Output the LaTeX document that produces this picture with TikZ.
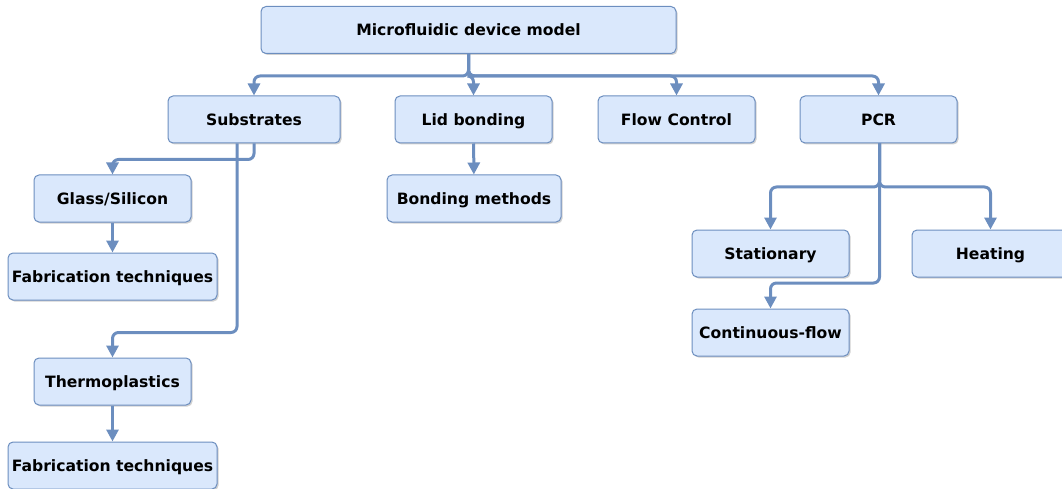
\documentclass[tikz,border=0pt]{standalone}
\usepackage{fontspec}
\setmainfont{DejaVu Sans}
\usetikzlibrary{arrows.meta,shadows}

\definecolor{boxfill}{HTML}{DAE8FC}
\definecolor{boxline}{HTML}{6C8EBF}

\begin{document}
\begin{tikzpicture}[x=1pt, y=-1pt,
      box/.style = {shape=rectangle, rounded corners=5pt,
        draw=boxline, fill=boxfill, line width=1pt, align=center,
        minimum width=157pt, minimum height=47pt, inner sep=0pt,
        text height=11.4pt, text depth=0pt,
        font=\fontsize{15.6}{18}\selectfont\bfseries,
        drop shadow={shadow xshift=1.5pt, shadow yshift=-1.5pt,
          fill=black!30, opacity=0.6}},
      link/.style = {draw=boxline, line width=3pt, rounded corners=6pt,
        -{Triangle[length=12pt, width=12pt]}}]
  \useasboundingbox (0,0) rectangle (1062,489);

  % top row
  \node[box, minimum width=415pt] (model) at (468.5,30) {Microfluidic device model};
  \node[box, minimum width=172pt] (subs) at (254,119.5) {Substrates};
  \node[box] (lid)  at (473.5,119.5) {Lid bonding};
  \node[box] (flow) at (676.5,119.5) {Flow Control};
  \node[box] (pcr)  at (878.5,119.5) {PCR};

  % substrates branch
  \node[box] (glass) at (112.5,198.5) {Glass/Silicon};
  \node[box, minimum width=209pt] (fabglass) at (112.5,276.5) {Fabrication techniques};
  \node[box] (thermo) at (112.5,381.5) {Thermoplastics};
  \node[box, minimum width=209pt] (fabthermo) at (112.5,465.5) {Fabrication techniques};

  % lid branch
  \node[box, minimum width=174pt] (bondmeth) at (474,198.5) {Bonding methods};

  % pcr branch
  \node[box] (stat) at (770.5,253.5) {Stationary};
  \node[box] (heat) at (990.5,253.5) {Heating};
  \node[box] (cont) at (770.5,332.5) {Continuous-flow};

  \draw[link] (model.south) -- ++(0,22) -| (subs.north);
  \draw[link] (model.south) -- ++(0,22) -| (lid.north);
  \draw[link] (model.south) -- ++(0,22) -| (flow.north);
  \draw[link] (model.south) -- ++(0,22) -| (pcr.north);

  \draw[link] (subs.south) -- ++(0,16) -| (glass.north);
  \draw[link] ([xshift=-17pt]subs.south) -- ++(0,189) -| (thermo.north);
  \draw[link] (glass) -- (fabglass);
  \draw[link] (thermo) -- (fabthermo);

  \draw[link] (lid) -- (bondmeth);

  \draw[link] ([xshift=1pt]pcr.south) -- ++(0,43.5) -| (stat.north);
  \draw[link] ([xshift=1pt]pcr.south) -- ++(0,43.5) -| (heat.north);
  \draw[link] ([xshift=1pt]pcr.south) -- ++(0,139.5) -| (cont.north);
\end{tikzpicture}
\end{document}
